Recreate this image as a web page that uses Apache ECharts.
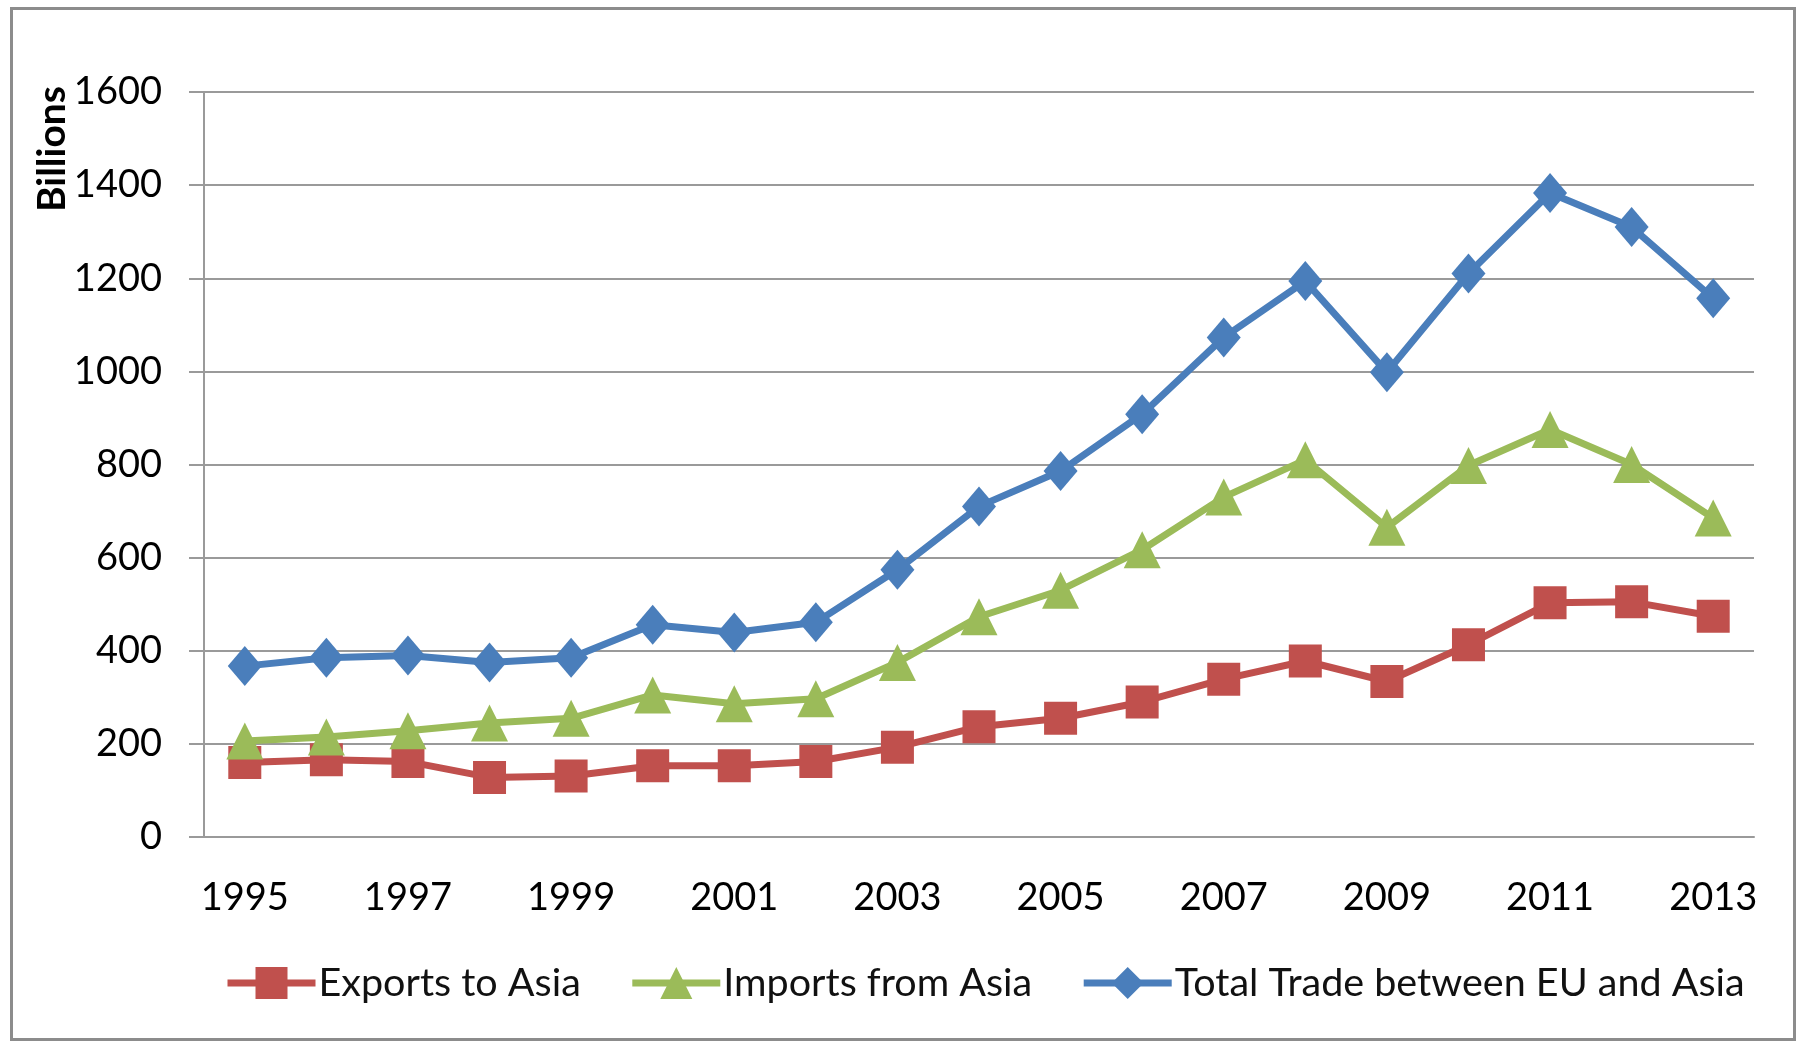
<!DOCTYPE html>
<html>
<head>
<meta charset="utf-8">
<script src="https://cdn.jsdelivr.net/npm/echarts@6/dist/echarts.min.js"></script>
<style>
  html, body { margin: 0; padding: 0; background: #fff; }
  #chart { position: absolute; left: 0; top: 0; width: 1801px; height: 1045px; }
  #frame {
    position: absolute; left: 10px; top: 7px; width: 1786px; height: 1034px;
    border: 3px solid #8c8c8c; box-sizing: border-box; pointer-events: none;
  }
</style>
</head>
<body>
<div id="chart"></div>
<div id="frame"></div>
<script>
const years = ['1995', '1996', '1997', '1998', '1999', '2000', '2001', '2002', '2003', '2004',
  '2005', '2006', '2007', '2008', '2009', '2010', '2011', '2012', '2013']
const exportsToAsia = [160, 166, 162, 128, 131, 153, 153, 162, 193, 237,
  255, 290, 339, 378, 334, 413, 503, 505, 474]
const importsFromAsia = [206, 215, 228, 245, 255, 305, 286, 297, 375, 473,
  530, 617, 730, 810, 665, 798, 875, 800, 685]
const totalTrade = [367, 385, 390, 375, 385, 456, 439, 461, 574, 710,
  786, 908, 1073, 1194, 998, 1210, 1383, 1310, 1157]
const seriesNames = ['Exports to Asia', 'Imports from Asia', 'Total Trade between EU and Asia']

const font = 'Lato, "Open Sans", sans-serif'
const gridColor = '#9a9a9a'

let myChart = echarts.init(document.getElementById('chart'))

let option = {
  animation: false,
  textStyle: { fontFamily: font },
  grid: {
    left: 204,
    right: 47,
    top: 92,
    bottom: 208
  },
  legend: {
    left: 219,
    top: 958,
    itemWidth: 88,
    itemHeight: 40,
    itemGap: 48,
    lineStyle: { width: 7 },
    textStyle: { fontFamily: font, fontSize: 39.5, color: '#111', padding: [0, 0, 0, -2] },
    data: seriesNames
  },
  graphic: [
    {
      type: 'text',
      left: 33,
      top: 86,
      rotation: Math.PI / 2,
      style: {
        text: 'Billions',
        font: 'bold 39px ' + font,
        fill: '#000'
      }
    }
  ],
  xAxis: {
    type: 'category',
    data: years,
    boundaryGap: true,
    axisLine: { lineStyle: { color: gridColor, width: 2 } },
    axisTick: { interval: 0, length: 15, lineStyle: { color: gridColor, width: 2 } },
    axisLabel: { interval: 1, margin: 42, fontSize: 38, color: '#000', fontFamily: font }
  },
  yAxis: {
    type: 'value',
    min: 0,
    max: 1600,
    interval: 200,
    axisLine: { show: true, lineStyle: { color: gridColor, width: 2 } },
    axisTick: { show: true, length: 15, lineStyle: { color: gridColor, width: 2 } },
    axisLabel: {
      margin: 42,
      fontSize: 38,
      color: '#000',
      fontFamily: font,
      formatter: (v) => String(v)
    },
    splitLine: { lineStyle: { color: gridColor, width: 2 } }
  },
  series: [
    {
      name: seriesNames[0],
      type: 'line',
      data: exportsToAsia,
      symbol: 'rect',
      symbolSize: 33,
      lineStyle: { color: '#C0504D', width: 7 },
      itemStyle: { color: '#C0504D' }
    },
    {
      name: seriesNames[1],
      type: 'line',
      data: importsFromAsia,
      symbol: 'triangle',
      symbolSize: 37,
      lineStyle: { color: '#9BBB59', width: 7 },
      itemStyle: { color: '#9BBB59' }
    },
    {
      name: seriesNames[2],
      type: 'line',
      data: totalTrade,
      symbol: 'diamond',
      symbolSize: [34, 40],
      lineStyle: { color: '#4A7EBB', width: 7 },
      itemStyle: { color: '#4A7EBB' }
    }
  ]
}
myChart.setOption(option)
</script>
</body>
</html>
